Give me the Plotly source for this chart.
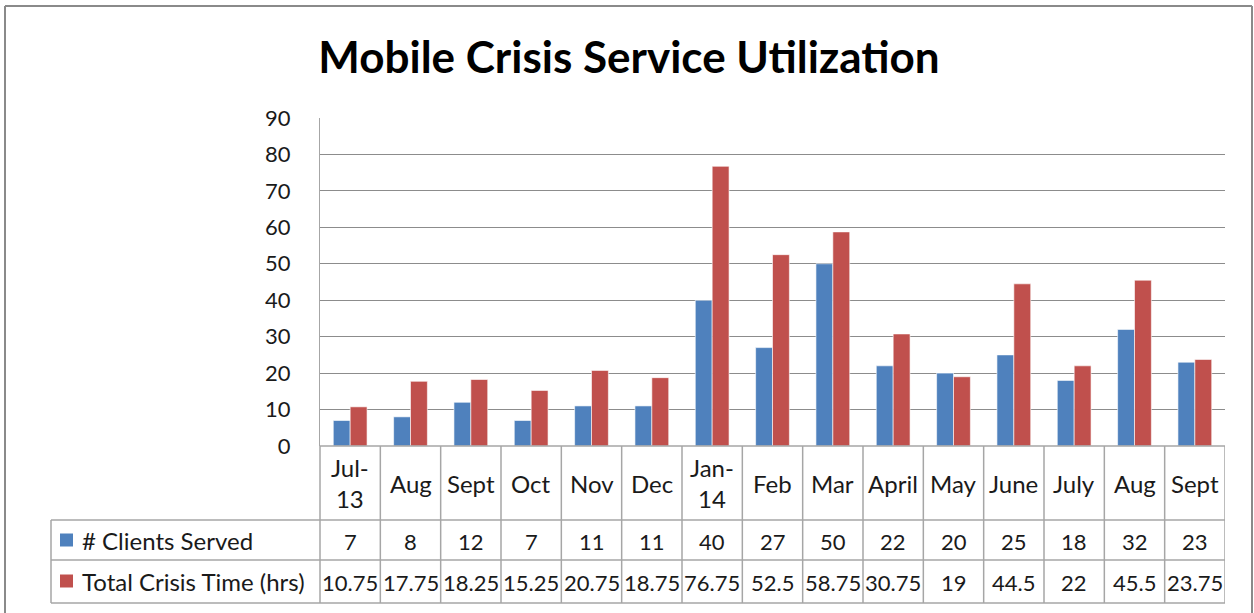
import plotly.graph_objects as go

categories = ["Jul-<br>13", "Aug", "Sept", "Oct", "Nov", "Dec", "Jan-<br>14", "Feb", "Mar",
              "April", "May", "June", "July", "Aug", "Sept"]
clients = [7, 8, 12, 7, 11, 11, 40, 27, 50, 22, 20, 25, 18, 32, 23]
crisis_time = [10.75, 17.75, 18.25, 15.25, 20.75, 18.75, 76.75, 52.5, 58.75, 30.75, 19, 44.5, 22, 45.5, 23.75]
series_names = ["# Clients Served", "Total Crisis Time (hrs)"]
y_ticks = [0, 10, 20, 30, 40, 50, 60, 70, 80, 90]

W, H = 1254, 613
BLUE, RED = "#4F81BD", "#C0504D"
FONT = "Lato"
GRID = "#8c8c8c"
TBL = "#a6a6a6"
TXT = 24
NUM = 22

def px(x):
    return x / W

def py(y):
    return 1 - y / H

n = len(categories)
xs = list(range(n))

fig = go.Figure()
fig.add_trace(go.Bar(x=xs, y=clients, name=series_names[0], marker=dict(color=BLUE, line=dict(width=0.6, color="#ffffff"))))
fig.add_trace(go.Bar(x=xs, y=crisis_time, name=series_names[1], marker=dict(color=RED, line=dict(width=0.6, color="#ffffff"))))

plot_l, plot_r, plot_t, plot_b = 320, 1225, 118, 446
row1_b, row2_b, row3_b = 520, 560, 603
legend_l = 51

fig.update_layout(
    width=W, height=H,
    margin=dict(l=0, r=0, t=0, b=0, autoexpand=False),
    paper_bgcolor="white", plot_bgcolor="white",
    barmode="group", bargap=0.44, bargroupgap=0,
    showlegend=False,
    font=dict(family=FONT, size=TXT, color="#1a1a1a"),
    xaxis=dict(domain=[px(plot_l), px(plot_r)], range=[-0.5, n - 0.5], automargin=False,
               showticklabels=False, showgrid=False, zeroline=False, showline=False, fixedrange=True),
    yaxis=dict(domain=[py(plot_b), py(plot_t)], range=[0, 90], tickvals=y_ticks, automargin=False,
               showgrid=True, gridcolor=GRID, gridwidth=1, zeroline=False,
               showline=True, linecolor=TBL, linewidth=1,
               ticks="", ticklabelstandoff=24,
               tickfont=dict(family=FONT, size=22, color="#1a1a1a")),
    title=dict(text="<b>Mobile Crisis Service Utilization</b>", x=px(629), xanchor="center",
               y=py(58), yanchor="middle", font=dict(family=FONT, size=44, color="#000000")),
)

shapes = []
# outer frame
frame = dict(color="#8a8a8a", width=2)
shapes.append(dict(type="line", xref="paper", yref="paper", x0=px(5), x1=px(5), y0=py(6), y1=0, line=frame))
shapes.append(dict(type="line", xref="paper", yref="paper", x0=px(5), x1=px(1252), y0=py(6), y1=py(6), line=frame))
shapes.append(dict(type="line", xref="paper", yref="paper", x0=px(1252), x1=px(1252), y0=py(6), y1=0, line=frame))

# table horizontal lines
tl = dict(color=TBL, width=1.5)
shapes.append(dict(type="line", xref="paper", yref="paper", x0=px(plot_l), x1=px(plot_r), y0=py(plot_b), y1=py(plot_b), line=tl))
for yy in (row1_b, row2_b, row3_b):
    shapes.append(dict(type="line", xref="paper", yref="paper", x0=px(legend_l), x1=px(plot_r), y0=py(yy), y1=py(yy), line=tl))
# table vertical lines
shapes.append(dict(type="line", xref="paper", yref="paper", x0=px(legend_l), x1=px(legend_l), y0=py(row1_b), y1=py(row3_b), line=tl))
shapes.append(dict(type="line", xref="paper", yref="paper", x0=px(plot_l), x1=px(plot_l), y0=py(plot_b), y1=py(row3_b), line=tl))
for i in range(n):
    shapes.append(dict(type="line", xref="x", yref="paper", x0=i + 0.5, x1=i + 0.5, y0=py(plot_b), y1=py(row3_b), line=tl))
# legend keys
for yc, col in ((540, BLUE), (581, RED)):
    shapes.append(dict(type="rect", xref="paper", yref="paper", x0=px(60), x1=px(73), y0=py(yc - 6.5), y1=py(yc + 6.5), fillcolor=col, line=dict(width=0)))

annotations = []
for i, c in enumerate(categories):
    annotations.append(dict(x=i, y=py(483), xref="x", yref="paper", text=c, showarrow=False,
                            xanchor="center", yanchor="middle", font=dict(family=FONT, size=TXT)))
    annotations.append(dict(x=i, y=py(541), xref="x", yref="paper", text=str(clients[i]), showarrow=False,
                            xanchor="center", yanchor="middle", font=dict(family=FONT, size=NUM)))
    annotations.append(dict(x=i, y=py(582), xref="x", yref="paper", text=f"{crisis_time[i]:g}", showarrow=False,
                            xanchor="center", yanchor="middle", font=dict(family=FONT, size=NUM)))
annotations.append(dict(x=px(80), y=py(540), xref="paper", yref="paper", text=series_names[0], showarrow=False,
                        xanchor="left", yanchor="middle", font=dict(family=FONT, size=TXT)))
annotations.append(dict(x=px(80), y=py(581), xref="paper", yref="paper", text=series_names[1], showarrow=False,
                        xanchor="left", yanchor="middle", font=dict(family=FONT, size=TXT)))

fig.update_layout(shapes=shapes, annotations=annotations)
fig.write_html("out.html", config={"displayModeBar": False},
               post_script="document.body.style.margin='0';document.body.style.overflow='hidden';")
